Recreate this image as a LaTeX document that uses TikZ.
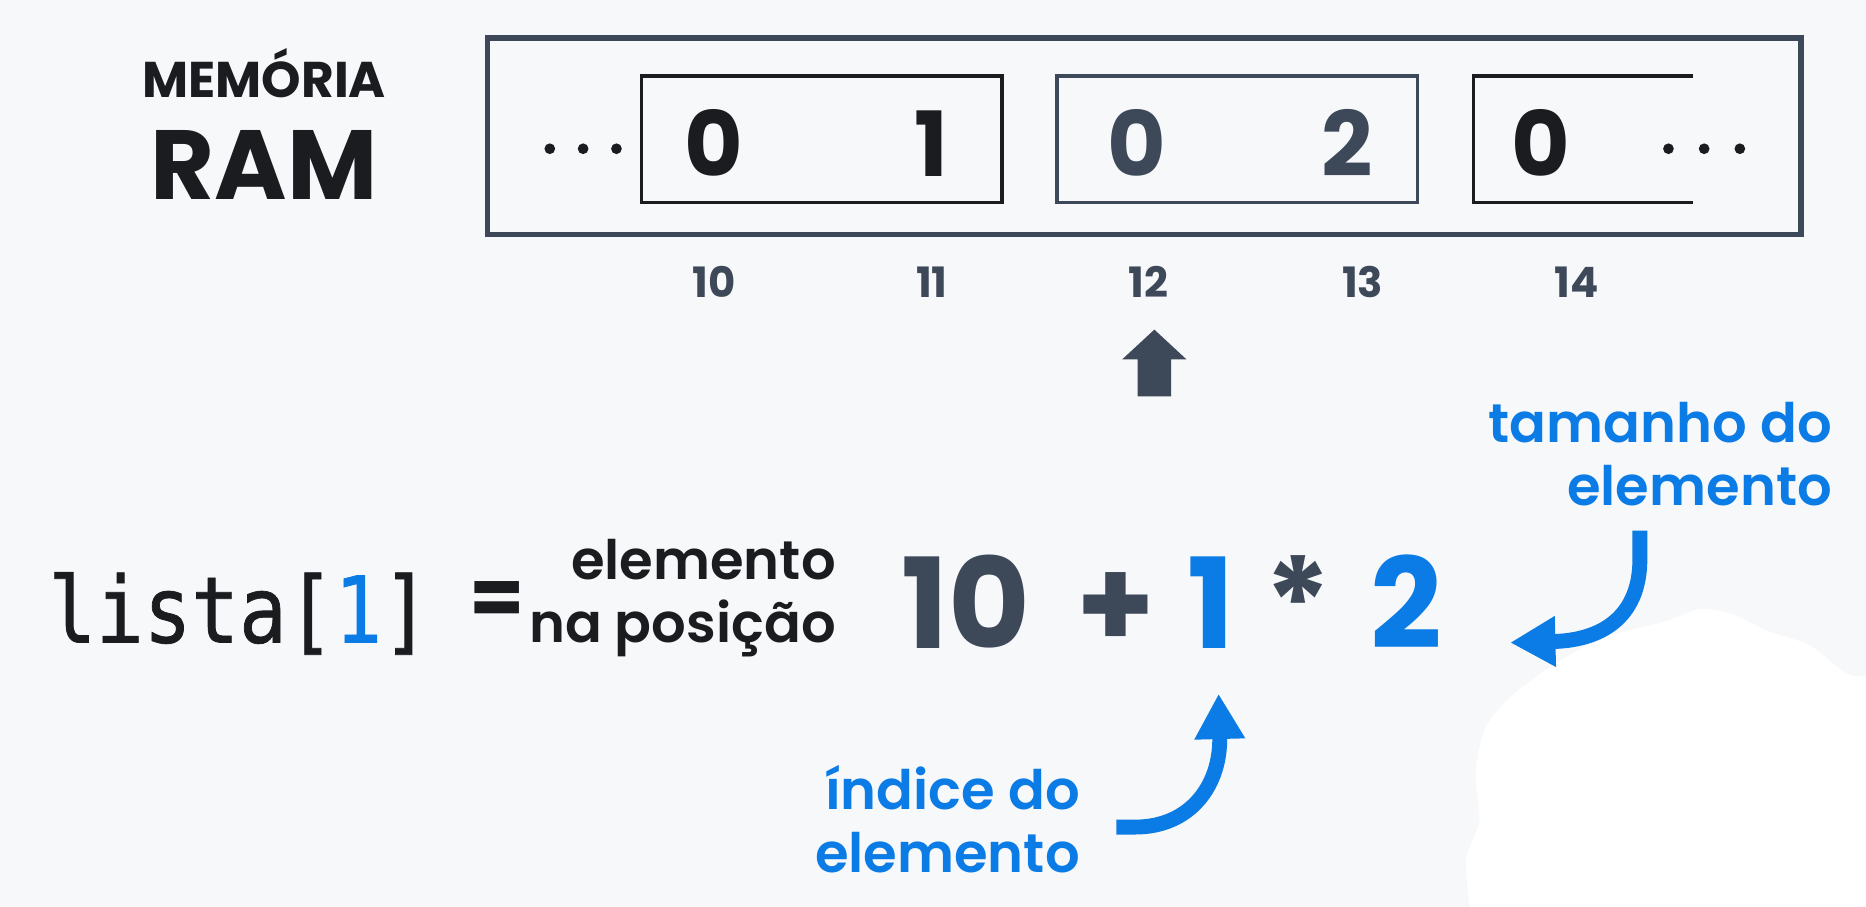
\documentclass[tikz,border=0pt]{standalone}
\usepackage{fontspec}
\setmainfont{Poppins}
\newfontfamily\semifont{Poppins SemiBold}
\newfontfamily\codefont[FakeStretch=0.86,FakeBold=0.8]{DejaVu Sans Mono}
\usepackage{tikz}
\usetikzlibrary{positioning}
\usetikzlibrary{arrows.meta}
\definecolor{ink}{HTML}{1A1C1F}
\definecolor{slate}{HTML}{3D4858}
\definecolor{azul}{HTML}{0B7BE5}
\definecolor{fundo}{HTML}{F7F8FA}
\tikzstyle{arrow} = [azul,line width=1.25mm,-{Triangle[length=3.8mm,width=4mm]}]
\tikzstyle{cell} = [draw,line width=0.8pt,minimum width=3.03cm,minimum height=1.06cm,inner sep=0pt]
\tikzstyle{digit} = [font=\fontsize{21.5}{22}\selectfont\bfseries,anchor=base,inner sep=0pt]
\tikzstyle{address} = [slate,font=\fontsize{10}{11}\selectfont\bfseries,anchor=base,inner sep=0pt]
\tikzstyle{formula} = [font=\fontsize{30}{32}\selectfont\bfseries,anchor=base,inner sep=0pt]
\tikzstyle{legenda} = [azul,font=\semifont\fontsize{13}{15}\selectfont,align=right,inner sep=0pt]

\begin{document}
\begin{tikzpicture}[x=0.01cm,y=-0.01cm]
	%Background
	\fill[fundo] (0,0) rectangle (1568,762);
	\useasboundingbox (0,0) rectangle (1568,762);
	\fill[white] plot[smooth] coordinates {(1568,568) (1552,566) (1520,542) (1485,530) (1455,516) (1428,512) (1400,522) (1350,535) (1308,557) (1270,585) (1248,612) (1240,650) (1243,690) (1232,722) (1235,762)} -- (1568,762) -- cycle;
	
	%Coordinates
	\coordinate (ramCenter) at (961.5,114.5);
	\coordinate (cellA) at (690.5,117);
	\coordinate [right=3.49cm of cellA] (cellB);
	\coordinate (tamanhoStart) at (1378,446);
	\coordinate (tamanhoTip) at (1269,540);
	\coordinate (indiceStart) at (938,695);
	\coordinate (indiceTip) at (1024,583);
	
	%Nodes
	\node [ink,font=\fontsize{12}{13}\selectfont\bfseries,anchor=base,inner sep=0pt] (memoria) at (222,82) {MEMÓRIA};
	\node [ink,font=\fontsize{23.5}{24}\selectfont\bfseries,anchor=base,inner sep=0pt] (ram) at (222,168) {RAM};
	
	\node [draw=slate,line width=1.4pt,minimum width=11.03cm,minimum height=1.65cm] (ramBox) at (ramCenter) {};
	\node [cell,draw=ink] (boxA) at (cellA) {};
	\node [cell,draw=slate] (boxB) at (cellB) {};
	\draw [ink,line width=0.8pt] (1423,64) -- (1238,64) -- (1238,170) -- (1423,170);
	
	\node [digit,ink] (byteA) at (600,148) {0};
	\node [digit,ink] (byteB) at (783,148) {1};
	\node [digit,slate] (byteC) at (955,148) {0};
	\node [digit,slate] (byteD) at (1132,148) {2};
	\node [digit,ink] (byteE) at (1295,148) {0};
	
	\fill[ink] (462,125) circle (4.5);
	\fill[ink] (490,125) circle (4.5);
	\fill[ink] (518,125) circle (4.5);
	\fill[ink] (1402,125) circle (4.5);
	\fill[ink] (1432,125) circle (4.5);
	\fill[ink] (1462,125) circle (4.5);
	
	\node [address] (addrA) at (600,250) {10};
	\node [address] (addrB) at (783,250) {11};
	\node [address] (addrC) at (965,250) {12};
	\node [address] (addrD) at (1145,250) {13};
	\node [address] (addrE) at (1325,250) {14};
	
	\fill[slate] (970,277) -- (997,302) -- (984,302) -- (984,333) -- (956,333) -- (956,302) -- (943,302) -- cycle;
	
	\node [ink,font=\codefont\fontsize{22}{24}\selectfont,anchor=base west,inner sep=0pt] (lista) at (40,540) {lista[{\color{azul}1}]};
	\node [ink,font=\fontsize{19}{20}\selectfont\bfseries,inner sep=0pt] (igual) at (418,507) {=};
	\node [legenda,ink,anchor=base east] (labelPosicao) at (703,540) {elemento\\na posição};
	
	\node [formula,slate] (enderecoBase) at (812,545) {10};
	\node [formula,slate] (sinalMais) at (938,545) {+};
	\node [formula,azul] (indiceUm) at (1018,545) {1};
	\node [formula,slate] (sinalVezes) at (1091,545) {*};
	\node [formula,azul] (tamanhoDois) at (1182,545) {2};
	
	\node [legenda,anchor=base east] (labelTamanho) at (1540,425) {tamanho do\\elemento};
	\node [legenda,anchor=base east] (labelIndice) at (908,733) {índice do\\elemento};
	
	%Lines
	\draw[arrow] (tamanhoStart) -- ++(0,24) .. controls (1378,515) and (1350,538) .. (tamanhoTip);
	\draw[arrow] (indiceStart) -- ++(16,0) .. controls (1000,695) and (1026,660) .. (indiceTip);
	
\end{tikzpicture}
\end{document}
